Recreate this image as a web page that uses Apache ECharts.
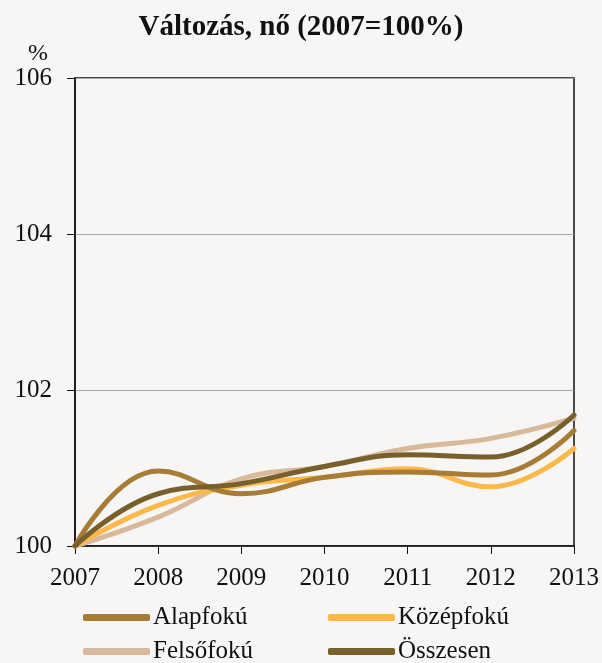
<!DOCTYPE html>
<html><head><meta charset="utf-8">
<script src="https://cdn.jsdelivr.net/npm/echarts@6/dist/echarts.min.js"></script>
<style>html,body{margin:0;padding:0;background:#f7f6f4}#c{width:602px;height:663px}</style>
</head><body><div id="c"></div>
<script>
const years = ['2007','2008','2009','2010','2011','2012','2013'];
const alapfoku = [100, 100.96, 100.67, 100.88, 100.95, 100.91, 101.48];
const kozepfoku = [100, 100.52, 100.78, 100.88, 100.99, 100.76, 101.25];
const felsofoku = [100, 100.37, 100.86, 101.02, 101.25, 101.38, 101.64];
const osszesen = [100, 100.67, 100.80, 101.02, 101.17, 101.14, 101.68];
const yTicks = [100, 102, 104, 106];

const font = '"Liberation Serif", "DejaVu Serif", serif';
const chart = echarts.init(document.getElementById('c'));
const mk = (name, data, color) => ({
  name, type: 'line', data, smooth: 0.45, symbol: 'none',
  lineStyle: {width: 5, color, cap: 'round'}, itemStyle: {color}
});
const legendText = {fontFamily: font, fontSize: 25, color: '#111', padding: [0, 0, 0, -2]};
chart.setOption({
  backgroundColor: '#f7f6f4',
  animation: false,
  title: {text: 'Változás, nő (2007=100%)', left: 'center', top: 8,
    textStyle: {fontFamily: font, fontSize: 29, fontWeight: 'bold', color: '#111'}},
  grid: {left: 75, right: 27, top: 78, bottom: 117, show: true, borderColor: '#111', borderWidth: 1.5},
  xAxis: {type: 'category', data: years, boundaryGap: false,
    axisLine: {lineStyle: {color: '#111', width: 1.5}},
    axisTick: {show: true, length: 8, lineStyle: {color: '#111'}},
    axisLabel: {fontFamily: font, fontSize: 25, color: '#111', margin: 20}},
  yAxis: {type: 'value', min: yTicks[0], max: yTicks[yTicks.length-1], interval: 2,
    name: '%', nameLocation: 'end', nameGap: 12,
    nameTextStyle: {fontFamily: font, fontSize: 24, color: '#111', align: 'right', padding: [0, 27, 0, 0]},
    axisLine: {show: true, lineStyle: {color: '#111', width: 1.5}},
    axisTick: {show: true, length: 8, lineStyle: {color: '#111'}},
    axisLabel: {fontFamily: font, fontSize: 25, color: '#111', margin: 23},
    splitLine: {lineStyle: {color: '#a8a8a8', width: 1}}},
  legend: [
    {data: ['Alapfokú', 'Felsőfokú'], orient: 'vertical', left: 83, top: 605, height: 80, width: 220, itemGap: 9,
      padding: 0, itemWidth: 67, itemHeight: 7, icon: 'roundRect', textStyle: legendText},
    {data: ['Középfokú', 'Összesen'], orient: 'vertical', left: 328, top: 605, height: 80, width: 220, itemGap: 9,
      padding: 0, itemWidth: 67, itemHeight: 7, icon: 'roundRect', textStyle: legendText}
  ],
  series: [
    mk('Felsőfokú', felsofoku, '#d9b99c'),
    mk('Középfokú', kozepfoku, '#fcb94b'),
    mk('Alapfokú', alapfoku, '#a67c36'),
    mk('Összesen', osszesen, '#78602d')
  ]
});
</script></body></html>
